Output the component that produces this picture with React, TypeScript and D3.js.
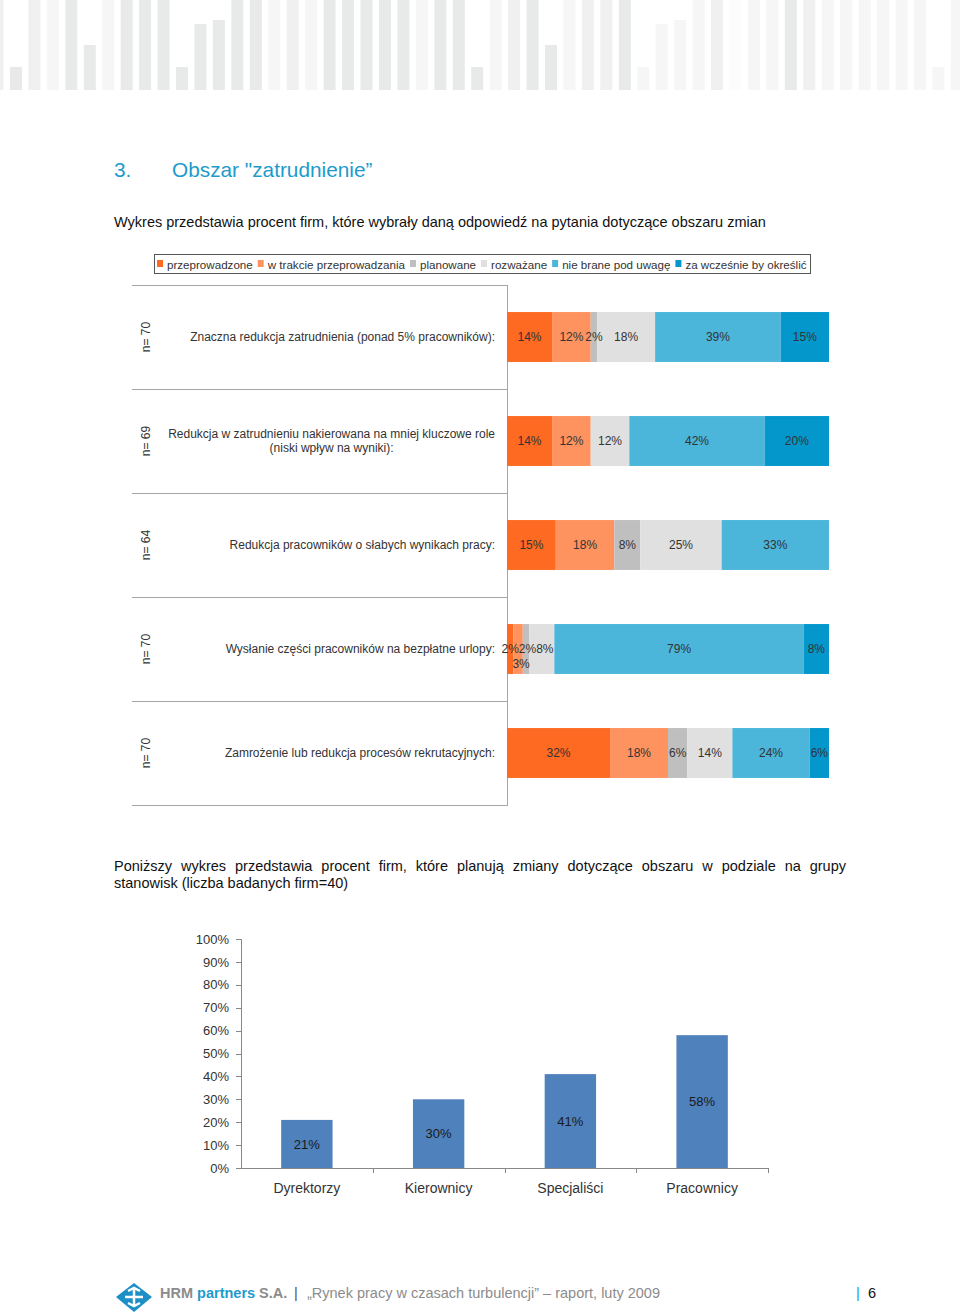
import React from "react";
import * as d3 from "d3";

// ---------- data ----------
const STACK_CATEGORIES = [
  "Znaczna redukcja zatrudnienia (ponad 5% pracowników):",
  "Redukcja w zatrudnieniu nakierowana na mniej kluczowe role\n(niski wpływ na wyniki):",
  "Redukcja pracowników o słabych wynikach pracy:",
  "Wysłanie części pracowników na bezpłatne urlopy:",
  "Zamrożenie lub redukcja procesów rekrutacyjnych:",
];
const STACK_N = ["n= 70", "n= 69", "n= 64", "n= 70", "n= 70"];
const SERIES_NAMES = [
  "przeprowadzone",
  "w trakcie przeprowadzania",
  "planowane",
  "rozważane",
  "nie brane pod uwagę",
  "za wcześnie by określić",
];
const VALS_PRZEPROWADZONE = [14, 14, 15, 2, 32];
const VALS_W_TRAKCIE = [12, 12, 18, 3, 18];
const VALS_PLANOWANE = [2, 0, 8, 2, 6];
const VALS_ROZWAZANE = [18, 12, 25, 8, 14];
const VALS_NIE_BRANE = [39, 42, 33, 79, 24];
const VALS_ZA_WCZESNIE = [15, 20, 0, 8, 6];
const SERIES_COLORS = ["#FE6A22", "#FE9360", "#BFBFBF", "#E0E0E0", "#4BB5DA", "#0497CC"];

const GROUPS = ["Dyrektorzy", "Kierownicy", "Specjaliści", "Pracownicy"];
const GROUP_VALUES = [21, 30, 41, 58];
const Y_TICKS = [0, 10, 20, 30, 40, 50, 60, 70, 80, 90, 100];

// decorative header bars (top offset of each bar, tone)
const HEADER_TOPS = [0, 67, 0, 0, 0, 45, 0, 0, 0, 0, 67, 24, 20, 0, 0, 0, 0, 0, 0, 0, 0, 0, 0, 0, 0, 0,
  67, 0, 0, 0, 45, 0, 0, 0, 0, 67, 24, 20, 0, 0, 0, 0, 0, 0, 0, 0, 0, 0, 0, 0, 0, 67, 0];
const HEADER_TONES = ["B", "A", "B", "C", "A", "A", "C", "A", "A", "A", "A", "A", "A", "A", "A", "C", "B", "C",
  "A", "A", "A", "A", "A", "C", "A", "A", "A", "C", "B", "A", "A", "C", "B", "B", "A", "C", "C", "C", "C", "B",
  "D", "C", "C", "A", "B", "C", "C", "C", "C", "C", "C", "C", "C"];
const TONE_COLORS: Record<string, string> = { A: "#E8EAE9", B: "#EFF0EF", C: "#F6F6F6", D: "#FCFCFC" };

const TITLE_NUM = "3.";
const TITLE = "Obszar \"zatrudnienie\u201D";
const SUBTITLE = "Wykres przedstawia procent firm, które wybrały daną odpowiedź na pytania dotyczące obszaru zmian";
const PARA_LINE1 = "Poniższy wykres przedstawia procent firm, które planują zmiany dotyczące obszaru w podziale na grupy";
const PARA_LINE2 = "stanowisk (liczba badanych firm=40)";

const FONT = "'Liberation Sans', Arial, Helvetica, sans-serif";
const TEAL = "#1E9BCB";

let _ctx: CanvasRenderingContext2D | null = null;
function measure(text: string, size: number, weight = "normal"): number {
  if (!_ctx) {
    const c = document.createElement("canvas");
    _ctx = c.getContext("2d");
  }
  if (!_ctx) return text.length * size * 0.5;
  _ctx.font = `${weight} ${size}px ${FONT}`;
  return _ctx.measureText(text).width;
}

export default function App() {
  const W = 960;
  const H = 1314;

  // ---- header bars
  const hx = d3.scaleLinear().domain([0, HEADER_TOPS.length - 1]).range([-8.5, -8.5 + (HEADER_TOPS.length - 1) * 18.45]);

  // ---- stacked chart
  const seriesVals = [VALS_PRZEPROWADZONE, VALS_W_TRAKCIE, VALS_PLANOWANE, VALS_ROZWAZANE, VALS_NIE_BRANE, VALS_ZA_WCZESNIE];
  const sx = d3.scaleLinear().domain([0, 1]).range([507, 829]);
  const sy = d3.scaleBand<string>().domain(STACK_CATEGORIES).range([285, 805]).paddingInner(0.52).paddingOuter(0.26);
  const step = sy.step();
  const leftX = 132;

  const rows = STACK_CATEGORIES.map((cat, r) => {
    const vals = seriesVals.map((s) => s[r]);
    const total = d3.sum(vals);
    let acc = 0;
    const segs = vals.map((v, i) => {
      const x0 = sx(acc / total);
      acc += v;
      const x1 = sx(acc / total);
      return { v, i, x0, x1 };
    });
    const y0 = sy(cat)!;
    const cy = y0 + sy.bandwidth() / 2;
    let prevRight = -Infinity;
    let prevDown = false;
    const labels: { x: number; y: number; t: string }[] = [];
    segs.forEach((s) => {
      if (s.v <= 0) return;
      const t = `${s.v}%`;
      const w = measure(t, 12);
      const cx = (s.x0 + s.x1) / 2;
      if (cx - w / 2 < prevRight && !prevDown && s.x1 - s.x0 < w) {
        labels.push({ x: cx + 3, y: cy + 15, t });
        prevDown = true;
      } else {
        const x = Math.max(cx, prevRight + w / 2);
        labels.push({ x, y: cy, t });
        prevRight = x + w / 2;
        prevDown = false;
      }
    });
    return { cat, y0, cy, segs, labels, r };
  });

  // ---- legend layout (fit inside the box)
  const LEG_FS = 11.6;
  let lcur = 157;
  const legendItems = SERIES_NAMES.map((name, i) => {
    const mx = lcur;
    const tx = mx + 10;
    const w = measure(name, LEG_FS);
    lcur = tx + w + 5;
    return { name, mx, tx, color: SERIES_COLORS[i] };
  });

  // ---- bottom chart
  const bx = d3.scaleBand<string>().domain(GROUPS).range([241, 768]).paddingInner(0.61).paddingOuter(0.305);
  const by = d3.scaleLinear().domain([0, 100]).range([1168, 939]);
  const bandEdges = GROUPS.map((g) => bx(g)! - bx.step() * 0.305);
  bandEdges.push(768);

  // ---- justified paragraph
  const PFS = 14.5;
  const words = PARA_LINE1.split(" ");
  const wordW = words.map((w) => measure(w, PFS));
  const gap = (846 - 114 - d3.sum(wordW)) / (words.length - 1);
  let wx = 114;
  const placedWords = words.map((w, i) => {
    const x = wx;
    wx += wordW[i] + gap;
    return { w, x };
  });

  return (
    <svg
      width={W}
      height={H}
      viewBox={`0 0 ${W} ${H}`}
      style={{ position: "absolute", left: 0, top: 0, display: "block", background: "#fff" }}
      fontFamily={FONT}
    >
      <rect x={0} y={0} width={W} height={H} fill="#fff" />
      {/* header decoration */}
      <g>
        {HEADER_TOPS.map((t, i) => (
          <rect key={i} x={hx(i)} y={t} width={12} height={90 - t} fill={TONE_COLORS[HEADER_TONES[i]]} />
        ))}
      </g>

      {/* title */}
      <text x={114} y={177} fontSize={20.8} fill={TEAL}>{TITLE_NUM}</text>
      <text x={172} y={177} fontSize={20.8} fill={TEAL}>{TITLE}</text>
      <text x={114} y={227} fontSize={14.5} fill="#111">{SUBTITLE}</text>

      {/* legend */}
      <rect x={154.5} y={254.5} width={656} height={19} fill="#fff" stroke="#555" strokeWidth={1} />
      {legendItems.map((it) => (
        <g key={it.name}>
          <rect x={it.mx} y={260} width={6} height={7} fill={it.color} />
          <text x={it.tx} y={268.5} fontSize={LEG_FS} fill="#333">{it.name}</text>
        </g>
      ))}

      {/* stacked chart frame */}
      <g stroke="#A6A6A6" strokeWidth={1}>
        {rows.map((r) => (
          <line key={"sep" + r.r} x1={leftX} x2={507} y1={Math.round(r.y0 - step * 0.26) + 0.5} y2={Math.round(r.y0 - step * 0.26) + 0.5} />
        ))}
        <line x1={leftX} x2={507} y1={805.5} y2={805.5} />
        <line x1={507.5} x2={507.5} y1={285} y2={806} />
      </g>

      {rows.map((r) => (
        <g key={"row" + r.r}>
          {r.segs.map((s) =>
            s.v > 0 ? (
              <rect key={s.i} x={s.x0} y={r.y0} width={s.x1 - s.x0} height={sy.bandwidth()} fill={SERIES_COLORS[s.i]} />
            ) : null
          )}
          {r.labels.map((l, k) => (
            <text key={k} x={l.x} y={l.y} dy="0.36em" textAnchor="middle" fontSize={12} fill="#333">{l.t}</text>
          ))}
          {(() => {
            const lines = r.cat.split("\n");
            if (lines.length === 1) {
              return (
                <text x={495} y={r.cy} dy="0.36em" textAnchor="end" fontSize={12} fill="#333">{lines[0]}</text>
              );
            }
            const w0 = measure(lines[0], 12);
            const center = 495 - w0 / 2;
            return (
              <text textAnchor="middle" fontSize={12} fill="#333">
                {lines.map((ln, k) => (
                  <tspan key={k} x={center} y={r.cy - 7 + k * 14} dy="0.36em">{ln}</tspan>
                ))}
              </text>
            );
          })()}
          <text
            transform={`translate(150,${r.cy}) rotate(-90)`}
            textAnchor="middle"
            fontSize={12}
            fill="#333"
          >
            {STACK_N[r.r]}
          </text>
        </g>
      ))}

      {/* paragraph */}
      <text fontSize={PFS} fill="#111">
        {placedWords.map((p, i) => (
          <tspan key={i} x={p.x} y={871}>{p.w}</tspan>
        ))}
      </text>
      <text x={114} y={888} fontSize={PFS} fill="#111">{PARA_LINE2}</text>

      {/* bottom chart */}
      <g>
        <line x1={241.5} x2={241.5} y1={939} y2={1168} stroke="#888" />
        {Y_TICKS.map((t) => (
          <g key={t}>
            <line x1={236} x2={241} y1={Math.round(by(t)) + 0.5} y2={Math.round(by(t)) + 0.5} stroke="#888" />
            <text x={229} y={by(t)} dy="0.36em" textAnchor="end" fontSize={13} fill="#333">{`${t}%`}</text>
          </g>
        ))}
        {GROUPS.map((g, i) => (
          <g key={g}>
            <rect x={bx(g)} y={by(GROUP_VALUES[i])} width={bx.bandwidth()} height={by(0) - by(GROUP_VALUES[i])} fill="#4F81BD" />
            <text
              x={bx(g)! + bx.bandwidth() / 2}
              y={(by(GROUP_VALUES[i]) + by(0)) / 2}
              dy="0.36em"
              textAnchor="middle"
              fontSize={13}
              fill="#1a1a1a"
            >
              {`${GROUP_VALUES[i]}%`}
            </text>
            <text x={bx(g)! + bx.bandwidth() / 2} y={1193} textAnchor="middle" fontSize={14} fill="#333">{g}</text>
          </g>
        ))}
        <line x1={241} x2={768} y1={1168.5} y2={1168.5} stroke="#888" />
        {bandEdges.slice(1).map((e, i) => (
          <line key={i} x1={Math.round(e) + 0.5} x2={Math.round(e) + 0.5} y1={1168} y2={1173} stroke="#888" />
        ))}
      </g>

      {/* footer */}
      <g>
        <path d="M116,1297 L134,1283 L152,1297 L134,1312 Z" fill="#1B8FC6" />
        <path
          d="M125,1297 L143,1297 M134,1288 L134,1306 M128,1291 L134,1288 L140,1291 M128,1303 L134,1306 L140,1303"
          stroke="#fff"
          strokeWidth={2.5}
          fill="none"
        />
        <text x={160} y={1298} fontSize={14.5} fontWeight="bold">
          <tspan fill="#8C8C8C">HRM </tspan>
          <tspan fill={TEAL}>partners</tspan>
          <tspan fill="#8C8C8C"> S.A.</tspan>
        </text>
        <text x={294} y={1298} fontSize={14.5} fill="#555">|</text>
        <text x={307} y={1298} fontSize={14.5} fill="#8C8C8C">{"\u201ERynek pracy w czasach turbulencji\u201D \u2013 raport, luty 2009"}</text>
        <text x={856} y={1298} fontSize={14.5} fill={TEAL}>|</text>
        <text x={868} y={1298} fontSize={14.5} fill="#111">6</text>
      </g>
    </svg>
  );
}
